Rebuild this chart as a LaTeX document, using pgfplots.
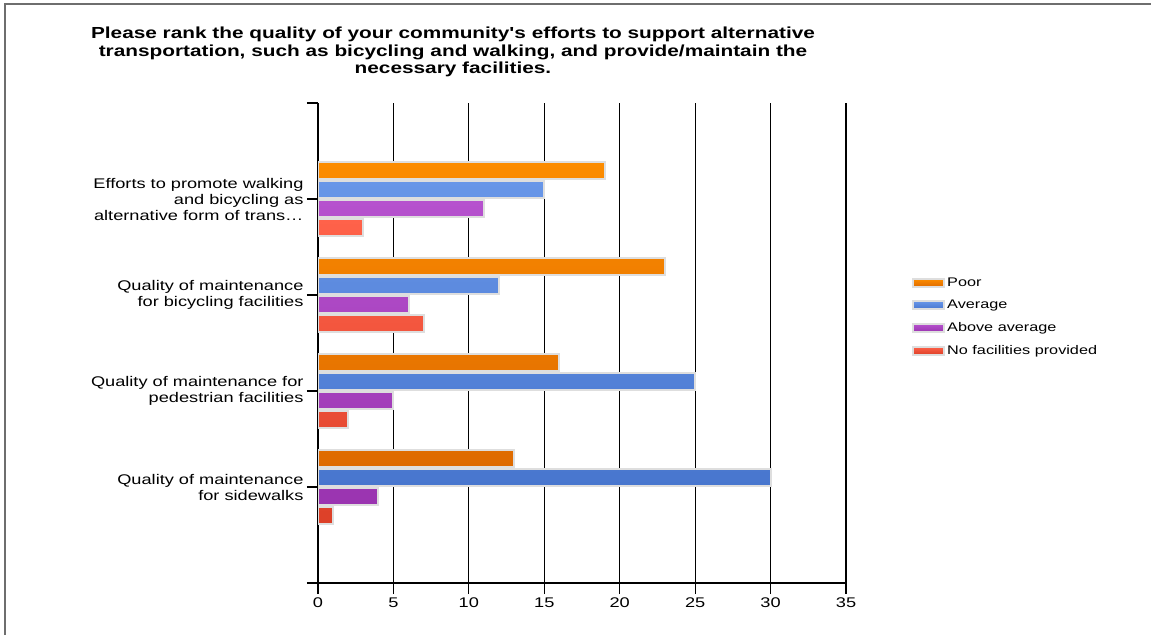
\documentclass[border=0pt]{standalone}
\usepackage{fontspec}
\setmainfont[FakeStretch=1.3, Ligatures=TeXOff]{Liberation Sans}
\usepackage{pgfplots}
\pgfplotsset{compat=1.18}
\definecolor{orT}{RGB}{252,140,0}
\definecolor{orB}{RGB}{222,106,0}
\definecolor{blT}{RGB}{104,150,232}
\definecolor{blB}{RGB}{72,118,206}
\definecolor{puT}{RGB}{182,82,206}
\definecolor{puB}{RGB}{154,52,176}
\definecolor{reT}{RGB}{255,98,74}
\definecolor{reB}{RGB}{220,64,40}
\definecolor{brd}{RGB}{222,222,222}
\definecolor{frame}{RGB}{110,110,110}
\begin{document}
\begin{tikzpicture}
\useasboundingbox (0,0) rectangle (1151pt,635pt);
\fill[white] (0,0) rectangle (1151pt,635pt);
\draw[line width=2pt, color=frame] (4.5pt,0pt) -- (4.5pt,630.5pt) -- (1151pt,630.5pt);
\node[anchor=base, align=center, inner sep=0pt, font=\fontsize{16}{17.5}\selectfont\bfseries]
  at (453pt,561pt) {Please rank the quality of your community's efforts to support alternative\\transportation, such as bicycling and walking, and provide/maintain the\\necessary facilities.};
\begin{axis}[
  at={(318pt,52pt)}, anchor=south west,
  scale only axis, width=528pt, height=480pt,
  xmin=0, xmax=35, ymin=0, ymax=5,
  xbar, bar width=17pt,
  xtick={0,5,...,35},
  ytick={1,2,3,4},
  yticklabels={{Quality of maintenance\\for sidewalks},{Quality of maintenance for\\pedestrian facilities},{Quality of maintenance\\for bicycling facilities},{Efforts to promote walking\\and bicycling as\\alternative form of trans…}},
  extra y ticks={0,5}, extra y tick labels={},
  extra y tick style={grid=none},
  axis x line*=bottom, axis y line*=left,
  axis line style={-, black, line width=1.2pt},
  xmajorgrids, major grid style={black, line width=1.2pt},
  tick align=outside, major tick length=11pt,
  tick style={black, line width=1.2pt},
  /pgf/number format/assume math mode=true,
  xticklabel style={font=\fontsize{14}{16}\selectfont},
  yticklabel style={font=\fontsize{14}{16}\selectfont, align=right},
  legend style={at={(1.125,0.64)}, anchor=north west, draw=none, fill=none,
    font=\fontsize{12.5}{14}\selectfont, row sep=8.2pt, inner sep=0pt},
  legend cell align=left,
  legend image code/.code={\draw[#1, line width=2pt] (0pt,-4pt) rectangle (31pt,4pt);},
]
\addplot[bar shift=28.5pt, draw=brd, line width=2pt, top color=orT, bottom color=orB]
  coordinates {(19,4) (23,3) (16,2) (13,1)};
\addplot[bar shift=9.5pt, draw=brd, line width=2pt, top color=blT, bottom color=blB]
  coordinates {(15,4) (12,3) (25,2) (30,1)};
\addplot[bar shift=-9.5pt, draw=brd, line width=2pt, top color=puT, bottom color=puB]
  coordinates {(11,4) (6,3) (5,2) (4,1)};
\addplot[bar shift=-28.5pt, draw=brd, line width=2pt, top color=reT, bottom color=reB]
  coordinates {(3,4) (7,3) (2,2) (1,1)};
\legend{Poor, Average, Above average, No facilities provided}
\end{axis}
\end{tikzpicture}
\end{document}
